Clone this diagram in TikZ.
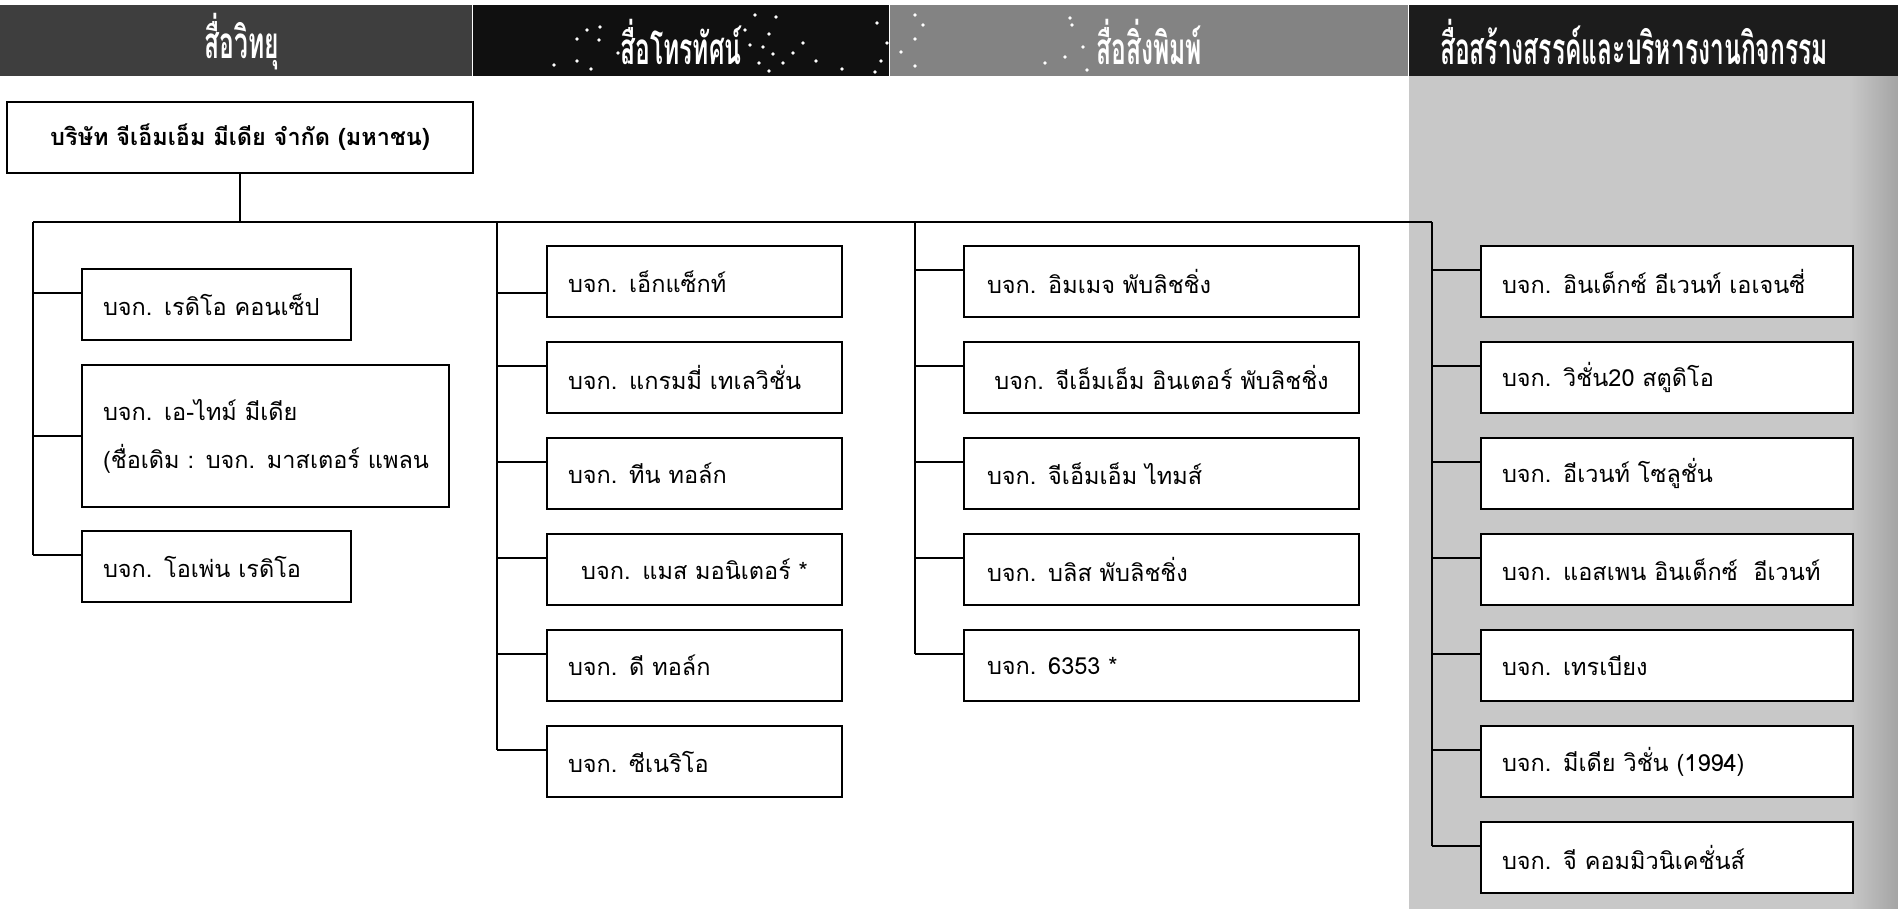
\documentclass[tikz,border=0pt]{standalone}
\usepackage{fontspec}
\newfontfamily\thai[Script=Thai]{Loma}
\usetikzlibrary{calc}
\definecolor{hdA}{HTML}{3E3E3E}
\definecolor{hdB}{HTML}{101010}
\definecolor{hdC}{HTML}{838383}
\definecolor{hdD}{HTML}{1C1C1C}
\definecolor{bgM}{HTML}{C8C8C8}
\definecolor{bgR}{HTML}{A4A4A4}
\pgfdeclarehorizontalshading{colbg}{100bp}{color(0bp)=(bgM); color(70bp)=(bgM); color(75bp)=(bgR); color(100bp)=(bgR)}
\tikzset{
  box/.style={draw, line width=2.2pt, fill=white, minimum height=71pt, anchor=north west,
    outer sep=0pt, inner ysep=0pt, font=\thai\fontsize{23.5}{48}\selectfont},
  cA/.style={text width=227pt, inner xsep=21pt, align=left},
  cAw/.style={text width=325pt, inner xsep=21pt, align=left},
  cB/.style={text width=253pt, inner xsep=21pt, align=left},
  cBc/.style={text width=253pt, inner xsep=21pt, align=center},
  cC/.style={text width=349pt, inner xsep=23pt, align=left},
  cCc/.style={text width=349pt, inner xsep=23pt, align=center},
  cD/.style={text width=330pt, inner xsep=21pt, align=left},
  link/.style={line width=2pt},
  hdtext/.style={text=white, inner sep=0pt, font=\thai\bfseries\fontsize{44}{44}\selectfont},
  spark/.style={fill=white}
}
\newcommand\mybranch[3]{\coordinate (#1b) at ($(#1.west)+(0,#3)$); \draw[link] (#1b) -- (#1b -| #2);}
\begin{document}
\begin{tikzpicture}[x=1pt,y=-1pt]
\useasboundingbox (0,0) rectangle (1898,908);
\fill[white] (0,0) rectangle (1898,908);
% grey background of last column
\shade[shading=colbg] (1409,76) rectangle (1898,908);
% header band
\fill[hdA] (0,5) rectangle (472,76);
\fill[hdB] (473,5) rectangle (889,76);
\fill[hdC] (890,5) rectangle (1408,76);
\fill[hdD] (1409,5) rectangle (1898,76);
% sparkles
\foreach \p in {(577,39),(587,30),(600,27),(599,40),(618,53),(577,61),(554,65),(591,69),(629,62),
  (755,15),(776,17),(769,34),(763,47),(773,54),(759,63),(783,63),(769,71),(793,53),(803,43),
  (816,61),(842,69),(877,23),(881,61),(875,72),(887,43),(750,45),(745,30),
  (915,15),(923,25),(915,39),(901,52),(915,66),(1045,63),(1065,57),(1072,25),(1083,47),(1087,70),(1070,18)}
  \fill[spark] \p circle (1.8pt);
% header texts
\node[hdtext] (h1) at (242,42) {\scalebox{0.56}[1]{สื่อวิทยุ}};
\node[hdtext] (h2) at (681,42) {\scalebox{0.56}[1]{สื่อโทรทัศน์}};
\node[hdtext] (h3) at (1149,42) {\scalebox{0.56}[1]{สื่อสิ่งพิมพ์}};
\node[hdtext] (h4) at (1634,42) {\scalebox{0.56}[1]{สื่อสร้างสรรค์และบริหารงานกิจกรรม}};
% top company
\node[box, text width=424pt, inner xsep=21pt, align=center, font=\thai\bfseries\fontsize{23.5}{26}\selectfont] (top) at (7,102) {\mbox{บริษัท จีเอ็มเอ็ม มีเดีย จำกัด (มหาชน)}};
% column 1
\node[box,cA] (a1) at (82,269) {\mbox{บจก. เรดิโอ คอนเซ็ป}};
\node[box,cAw,minimum height=142pt] (a2) at (82,365) {\mbox{บจก. เอ-ไทม์ มีเดีย}\\\mbox{(ชื่อเดิม : บจก. มาสเตอร์ แพลน}\\[16pt]};
\node[box,cA] (a3) at (82,531) {\mbox{บจก. โอเพ่น เรดิโอ}};
% column 2
\node[box,cB] (b1) at (547,246) {\mbox{บจก. เอ็กแซ็กท์}};
\node[box,cB] (b2) at (547,342) {\mbox{บจก. แกรมมี่ เทเลวิชั่น}};
\node[box,cB] (b3) at (547,438) {\mbox{บจก. ทีน ทอล์ก}};
\node[box,cBc] (b4) at (547,534) {\mbox{บจก. แมส มอนิเตอร์ *}};
\node[box,cB] (b5) at (547,630) {\mbox{บจก. ดี ทอล์ก}};
\node[box,cB] (b6) at (547,726) {\mbox{บจก. ซีเนริโอ}};
% column 3
\node[box,cC] (c1) at (964,246) {\mbox{บจก. อิมเมจ พับลิชชิ่ง}};
\node[box,cCc] (c2) at (964,342) {\mbox{บจก. จีเอ็มเอ็ม อินเตอร์ พับลิชชิ่ง}};
\node[box,cC] (c3) at (964,438) {\mbox{บจก. จีเอ็มเอ็ม ไทมส์}};
\node[box,cC] (c4) at (964,534) {\mbox{บจก. บลิส พับลิชชิ่ง}};
\node[box,cC] (c5) at (964,630) {\mbox{บจก. 6353 *}};
% column 4
\node[box,cD] (d1) at (1481,246) {\mbox{บจก. อินเด็กซ์ อีเวนท์ เอเจนซี่}};
\node[box,cD] (d2) at (1481,342) {\mbox{บจก. วิชั่น20 สตูดิโอ}};
\node[box,cD] (d3) at (1481,438) {\mbox{บจก. อีเวนท์ โซลูชั่น}};
\node[box,cD] (d4) at (1481,534) {\mbox{บจก. แอสเพน อินเด็กซ์~ อีเวนท์}};
\node[box,cD] (d5) at (1481,630) {\mbox{บจก. เทรเบียง}};
\node[box,cD] (d6) at (1481,726) {\mbox{บจก. มีเดีย วิชั่น (1994)}};
\node[box,cD] (d7) at (1481,822) {\mbox{บจก. จี คอมมิวนิเคชั่นส์}};
% trunk junctions
\coordinate (j1) at (33,222);
\coordinate (j2) at (497,222);
\coordinate (j3) at (915,222);
\coordinate (j4) at (1432,222);
\draw[link] (top.south) -- (top.south |- j1);
\draw[link] (j1) -- (j4);
% branches
\mybranch{a1}{j1}{-12} \mybranch{a2}{j1}{0} \mybranch{a3}{j1}{-12}
\mybranch{b1}{j2}{11} \mybranch{b2}{j2}{-12} \mybranch{b3}{j2}{-12}
\mybranch{b4}{j2}{-12} \mybranch{b5}{j2}{-12} \mybranch{b6}{j2}{-12}
\mybranch{c1}{j3}{-12} \mybranch{c2}{j3}{-12} \mybranch{c3}{j3}{-12}
\mybranch{c4}{j3}{-12} \mybranch{c5}{j3}{-12}
\mybranch{d1}{j4}{-12} \mybranch{d2}{j4}{-12} \mybranch{d3}{j4}{-12}
\mybranch{d4}{j4}{-12} \mybranch{d5}{j4}{-12} \mybranch{d6}{j4}{-12} \mybranch{d7}{j4}{-12}
% vertical trunks
\draw[link] (j1) -- (a3b -| j1);
\draw[link] (j2) -- (b6b -| j2);
\draw[link] (j3) -- (c5b -| j3);
\draw[link] (j4) -- (d7b -| j4);
\end{tikzpicture}
\end{document}
